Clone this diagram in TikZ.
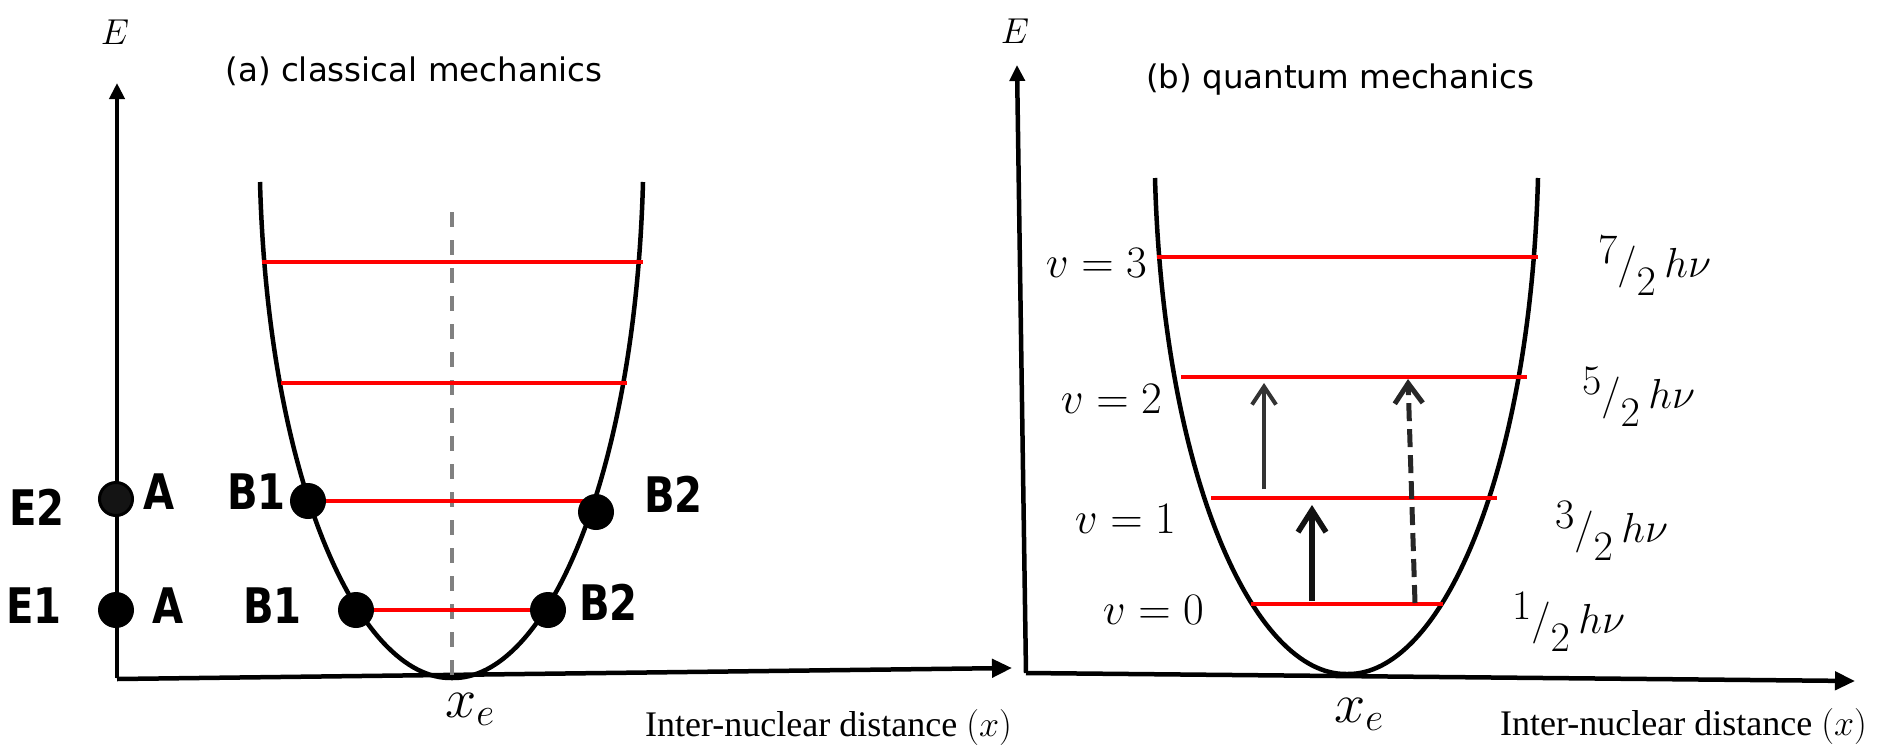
\RequirePackage{fix-cm}
\documentclass[tikz,border=0pt]{standalone}
\usepackage{fontspec}
\setmainfont{Liberation Serif}
\newfontfamily\titlefont{DejaVu Sans}
\newfontfamily\lblfont[FakeStretch=0.82]{DejaVu Sans}
\usetikzlibrary{arrows.meta}

% energy of a level: n/2 h nu
\newcommand{\quanta}[1]{\raisebox{.33em}{$#1$}$/$\raisebox{-.43em}{$2$}\hspace{.2em}$h\nu$}

\tikzset{
  axis/.style={line width=4.5pt,-{Triangle[length=16pt,width=15pt]}},
  xaxis/.style={line width=4.5pt,-{Triangle[length=20pt,width=18pt]}},
  well/.style={line width=4.5pt},
  level/.style={red,line width=4.5pt},
  dot/.style={circle,fill=black,inner sep=0pt,minimum size=36pt},
  bold/.style={font=\lblfont\bfseries\fontsize{49}{55}\selectfont,inner sep=0pt,anchor=base west},
  ttl/.style={font=\titlefont\fontsize{32.5}{39}\selectfont,inner sep=0pt},
  elab/.style={font=\fontsize{36}{42}\selectfont,inner sep=0pt},
  vlab/.style={font=\fontsize{45}{50}\selectfont,inner sep=0pt,anchor=base east},
  nrg/.style={font=\fontsize{42}{48}\selectfont,inner sep=0pt,anchor=base west},
  xe/.style={font=\fontsize{56}{62}\selectfont,inner sep=0pt,anchor=base west},
  xname/.style={font=\fontsize{36}{42}\selectfont,inner sep=0pt,anchor=base west},
}

\begin{document}
\begin{tikzpicture}[x=1pt,y=-1pt]
\useasboundingbox (0,0) rectangle (1893,745);

% (a) classical
\coordinate (Oa) at (117,678);
\coordinate (Ea) at (117,83);
\coordinate (Xa) at (1012,668);
\draw[axis] (Oa) -- (Ea);
\draw[xaxis] (117,679) -- (Xa);
\node[elab] (Ealab) at (115,32) {$E$};
\node[ttl] (titlea) at (414,71) {(a) classical mechanics};

\draw[gray,line width=4pt,dash pattern=on 15pt off 13pt] (452,212) -- (452,678);
\draw[well] (260,182) .. controls (268,480) and (359,680) .. (452,678)
  .. controls (545,680) and (635,480) .. (643,182);

\draw[level] (262,262) -- (643,262);
\draw[level] (281,383) -- (627,383);
\coordinate (b1u) at (308,501);
\coordinate (b2u) at (596,512);
\coordinate (b1d) at (356,610);
\coordinate (b2d) at (548,610);
\draw[level] (b1u) -- (b1u -| b2u);
\draw[level] (b1d) -- (b2d);

\node[dot,fill=black!92,draw=black,line width=3pt,minimum size=33pt] (e2) at (116,499) {};
\node[dot] (e1) at (116,610) {};
\node[dot] (B1u) at (b1u) {};
\node[dot] (B2u) at (b2u) {};
\node[dot] (B1d) at (b1d) {};
\node[dot] (B2d) at (b2d) {};

\node[bold] (lE2) at (9,525) {E2};
\node[bold] (lA2) at (143,509) {A};
\node[bold] (lE1) at (6,623) {E1};
\node[bold] (lA1) at (152,623) {A};
\node[bold] (lB1u) at (227,509) {B1};
\node[bold] (lB1d) at (243,623) {B1};
\node[bold] (lB2u) at (644,512) {B2};
\node[bold] (lB2d) at (579,620) {B2};

\node[xe] (xea) at (445,717) {$x_e$};
\node[xname] (xnamea) at (645,736) {Inter-nuclear distance $(x)$};

% (b) quantum
\coordinate (Ob) at (1026,673);
\coordinate (Eb) at (1017,65);
\coordinate (Xb) at (1855,681);
\draw[axis] (Ob) -- (Eb);
\draw[xaxis] (Ob) -- (Xb);
\node[elab] (Eblab) at (1015,31) {$E$};
\node[ttl] (titleb) at (1340,80) {(b) quantum mechanics};

\draw[well] (1155,178) .. controls (1163,476) and (1254,676) .. (1347,674)
  .. controls (1440,676) and (1530,476) .. (1538,178);

\draw[level] (1157,257) -- (1538,257);
\draw[level] (1181,377) -- (1527,377);
\draw[level] (1211,498) -- (1497,498);
\draw[level] (1251,604) -- (1443,604);

\node[vlab] (v3) at (1147,277) {$v = 3$};
\node[vlab] (v2) at (1162,413) {$v = 2$};
\node[vlab] (v1) at (1176,533) {$v = 1$};
\node[vlab] (v0) at (1204,624) {$v = 0$};

\node[nrg] (n3) at (1598,277) {\quanta{7}};
\node[nrg] (n2) at (1582,408) {\quanta{5}};
\node[nrg] (n1) at (1555,542) {\quanta{3}};
\node[nrg] (n0) at (1512,633) {\quanta{1}};

\coordinate (up1a) at (1264,489);
\coordinate (up1b) at (1264,383);
\coordinate (up0a) at (1312,601);
\coordinate (up0b) at (1312,505);
\coordinate (up2a) at (1415,603);
\coordinate (up2b) at (1408,379);
\draw[black!80,line width=4pt,-{Straight Barb[length=18pt,width=24pt]}] (up1a) -- (up1b);
\draw[black!93,line width=5.5pt,-{Straight Barb[length=22pt,width=28pt]}] (up0a) -- (up0b);
\draw[black!85,line width=5pt,dash pattern=on 18pt off 8pt,-{Straight Barb[length=20pt,width=28pt]}] (up2a) -- (up2b);

\node[xe] (xeb) at (1334,722) {$x_e$};
\node[xname] (xnameb) at (1500,735) {Inter-nuclear distance $(x)$};
\end{tikzpicture}
\end{document}
